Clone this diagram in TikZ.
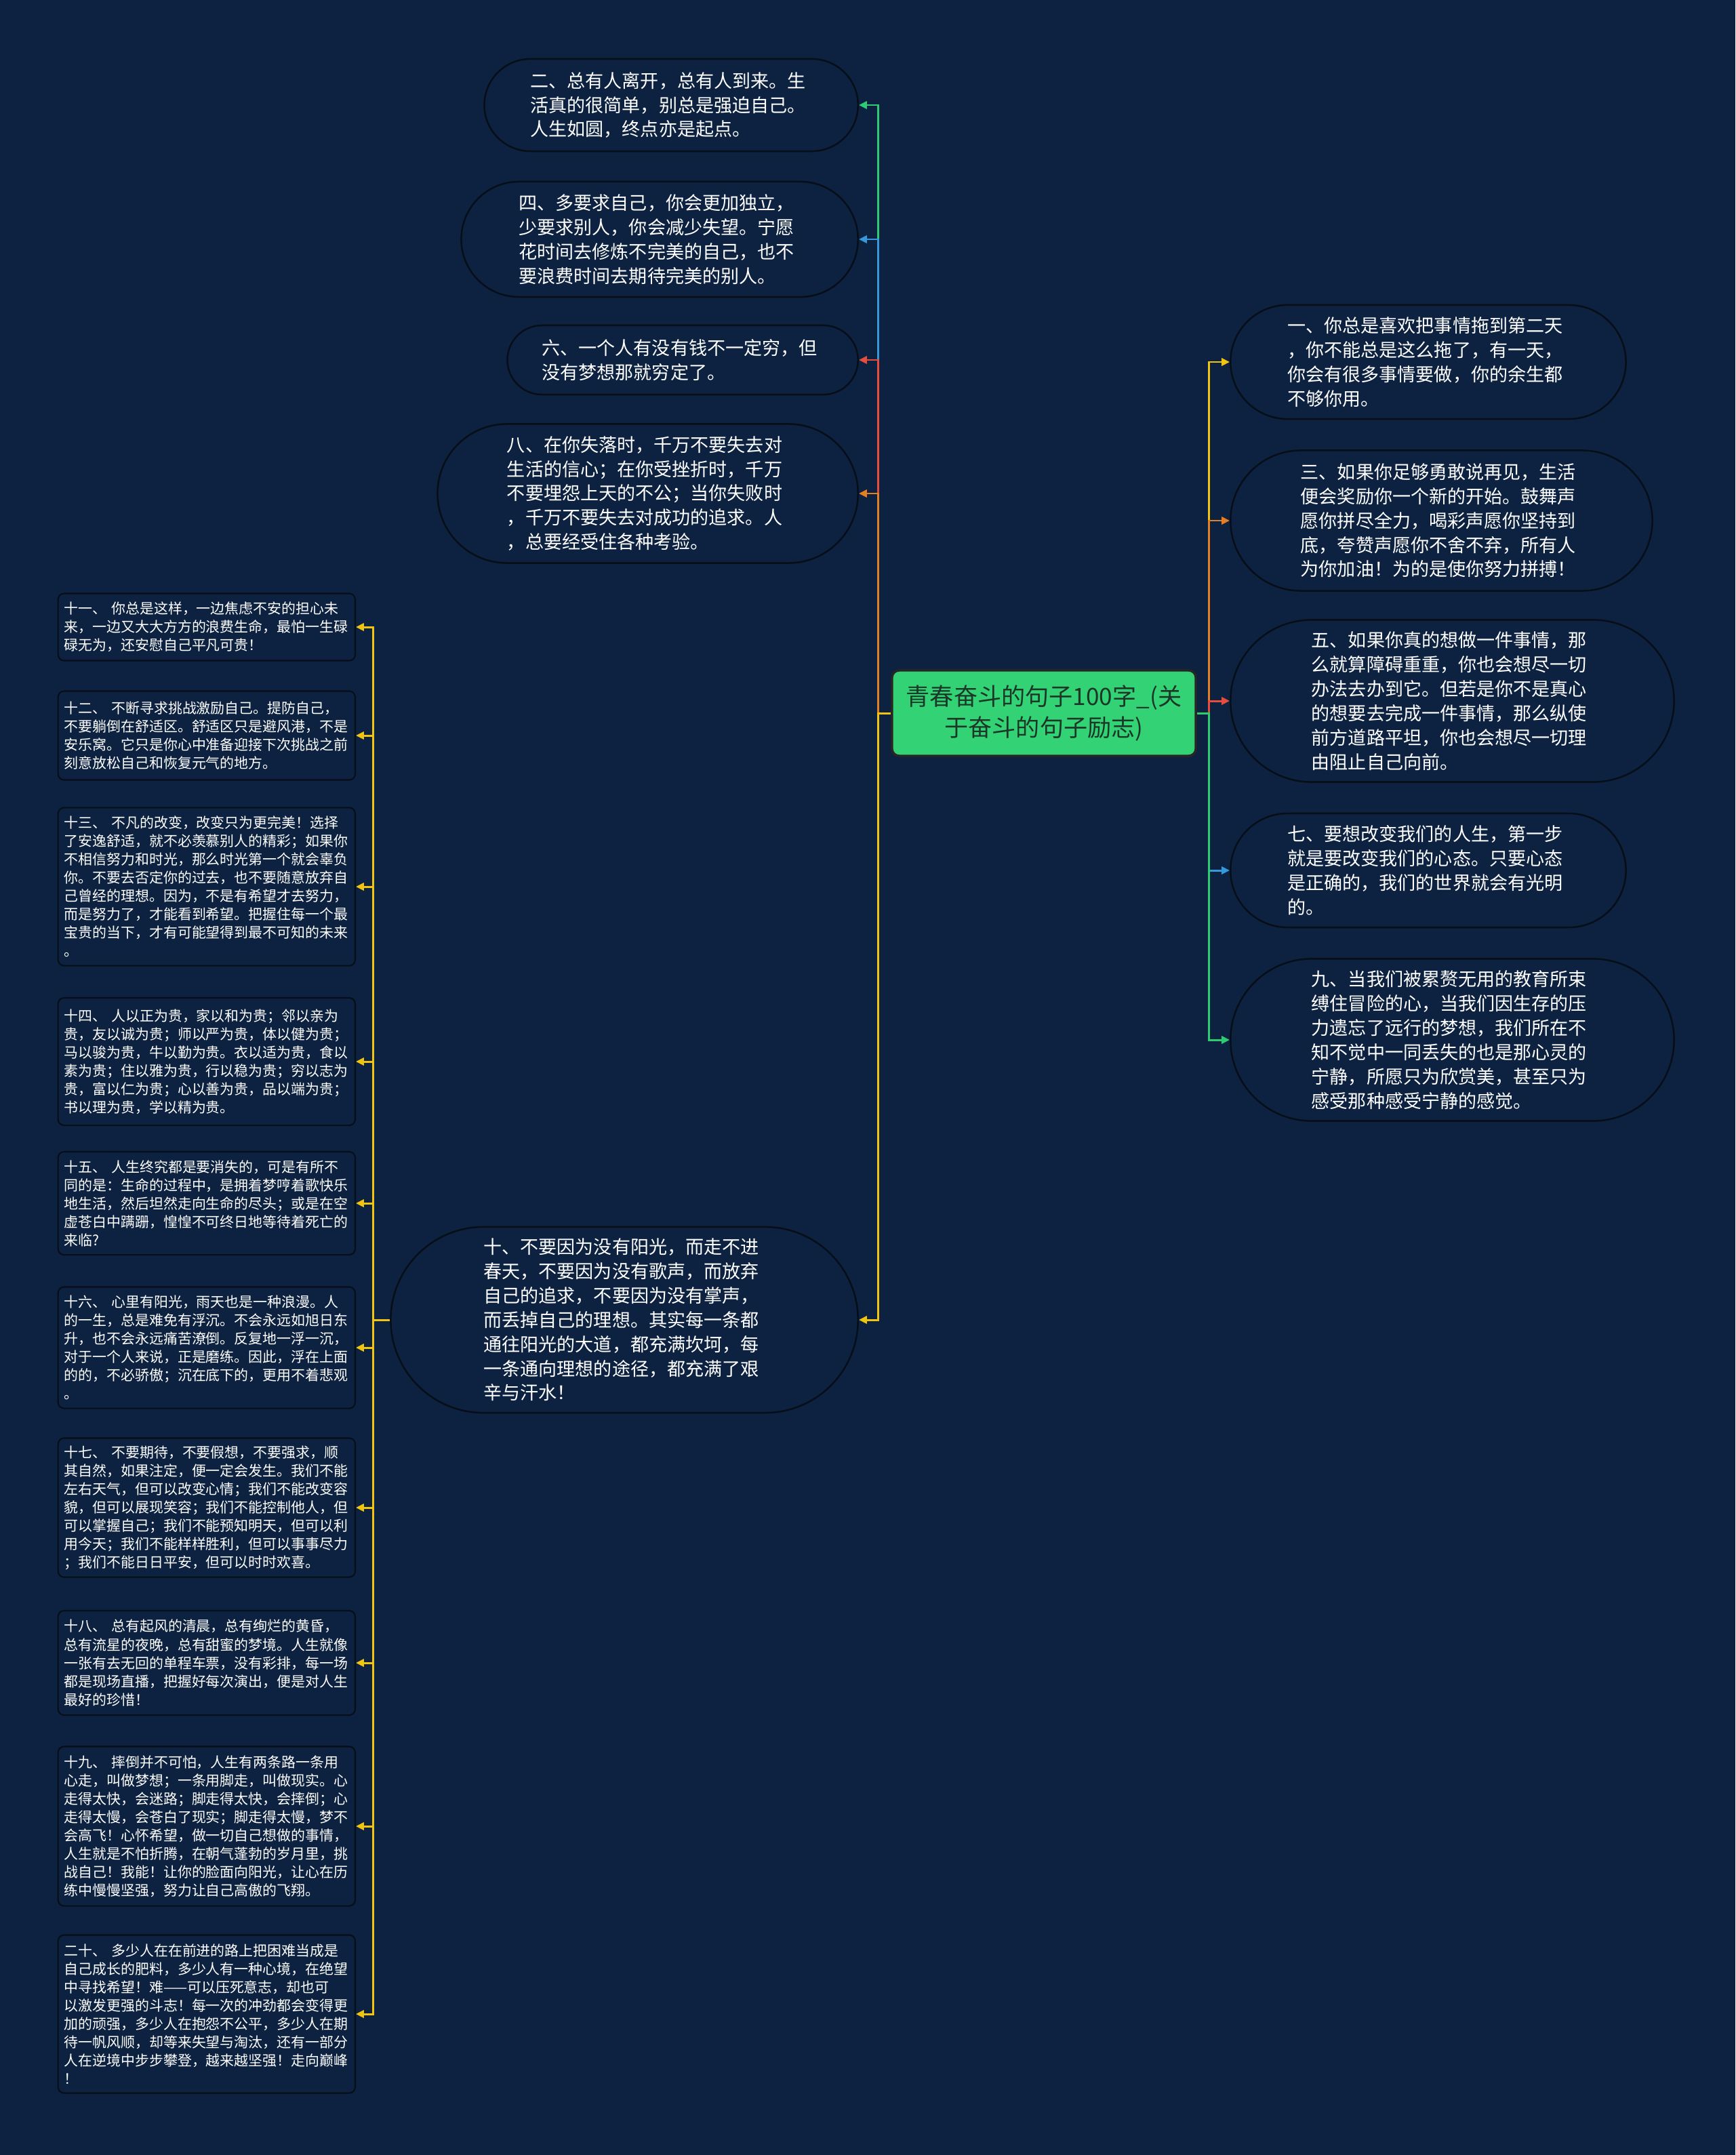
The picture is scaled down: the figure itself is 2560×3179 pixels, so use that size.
\documentclass[tikz,border=0pt]{standalone}
\usepackage{fontspec}
\setmainfont{Noto Sans CJK SC}
\usepackage{tikz}
\usetikzlibrary{arrows.meta,positioning}
\definecolor{bgnavy}{RGB}{13,34,64}
\definecolor{edgedark}{RGB}{6,14,24}
\definecolor{rootgreen}{RGB}{51,211,117}
\definecolor{roottext}{RGB}{28,54,40}
\definecolor{lgreen}{RGB}{46,204,113}
\definecolor{lblue}{RGB}{52,152,219}
\definecolor{lred}{RGB}{231,76,60}
\definecolor{lorange}{RGB}{230,126,34}
\definecolor{lyellow}{RGB}{241,196,15}
\newcommand{\bigfont}{\fontsize{7.7pt}{10.2pt}\selectfont}
\newcommand{\smallfont}{\fontsize{5.95pt}{7.68pt}\selectfont}

\begin{document}
\begin{tikzpicture}[x=0.01cm,y=-0.01cm,
  >={Triangle[length=3.4pt,width=3.2pt]},
  link/.style={line width=0.85pt,->},
  pill/.style={rectangle,rounded corners=#1/2,minimum height=#1,minimum width=4.15cm+#1,
    draw=edgedark,line width=0.7pt,fill=bgnavy,text=white,
    font=\bigfont,align=left,text width=4.15cm,inner xsep=0pt,inner ysep=0pt},
  card/.style={rectangle,rounded corners=2.5pt,draw=edgedark,line width=0.6pt,fill=bgnavy,
    text=white,font=\smallfont,align=left,text width=4.2cm,inner xsep=0.09cm,inner ysep=0pt,anchor=east},
  rootbox/.style={rectangle,rounded corners=3pt,draw=black!85,line width=1pt,fill=rootgreen,
    text=roottext,font=\fontsize{10pt}{13pt}\selectfont,align=center,
    minimum width=4.48cm,minimum height=1.26cm}]
  \useasboundingbox (0,0) rectangle (2560,3179);
  \fill[bgnavy] (0,0) rectangle (2560,3179);

  % root
  \node[rootbox] (root) at (1540,1052) {青春奋斗的句子100字\_(关\\于奋斗的句子励志)};

  % left branch
  \node[pill=1.36cm,anchor=east] (n2) at (1267,155)
    {二、总有人离开，总有人到来。生\\活真的很简单，别总是强迫自己。\\人生如圆，终点亦是起点。};
  \node[pill=1.70cm,anchor=east] (n4) at (1267,353)
    {四、多要求自己，你会更加独立，\\少要求别人，你会减少失望。宁愿\\花时间去修炼不完美的自己，也不\\要浪费时间去期待完美的别人。};
  \node[pill=1.02cm,anchor=east] (n6) at (1267,531)
    {六、一个人有没有钱不一定穷，但\\没有梦想那就穷定了。};
  \node[pill=2.05cm,anchor=east] (n8) at (1267,728)
    {八、在你失落时，千万不要失去对\\生活的信心；在你受挫折时，千万\\不要埋怨上天的不公；当你失败时\\，千万不要失去对成功的追求。人\\，总要经受住各种考验。};
  \node[pill=2.74cm,anchor=east] (n10) at (1267,1947)
    {十、不要因为没有阳光，而走不进\\春天，不要因为没有歌声，而放弃\\自己的追求，不要因为没有掌声，\\而丢掉自己的理想。其实每一条都\\通往阳光的大道，都充满坎坷，每\\一条通向理想的途径，都充满了艰\\辛与汗水！};

  % right branch
  \node[pill=1.68cm,anchor=west] (n1) at (1814,534)
    {一、你总是喜欢把事情拖到第二天\\，你不能总是这么拖了，有一天，\\你会有很多事情要做，你的余生都\\不够你用。};
  \node[pill=2.07cm,anchor=west] (n3) at (1814,768)
    {三、如果你足够勇敢说再见，生活\\便会奖励你一个新的开始。鼓舞声\\愿你拼尽全力，喝彩声愿你坚持到\\底，夸赞声愿你不舍不弃，所有人\\为你加油！为的是使你努力拼搏！};
  \node[pill=2.39cm,anchor=west] (n5) at (1814,1034)
    {五、如果你真的想做一件事情，那\\么就算障碍重重，你也会想尽一切\\办法去办到它。但若是你不是真心\\的想要去完成一件事情，那么纵使\\前方道路平坦，你也会想尽一切理\\由阻止自己向前。};
  \node[pill=1.68cm,anchor=west] (n7) at (1814,1284)
    {七、要想改变我们的人生，第一步\\就是要改变我们的心态。只要心态\\是正确的，我们的世界就会有光明\\的。};
  \node[pill=2.39cm,anchor=west] (n9) at (1814,1534)
    {九、当我们被累赘无用的教育所束\\缚住冒险的心，当我们因生存的压\\力遗忘了远行的梦想，我们所在不\\知不觉中一同丢失的也是那心灵的\\宁静，所愿只为欣赏美，甚至只为\\感受那种感受宁静的感觉。};

  % list under n10
  \node[card,minimum height=0.99cm] (n11) at (525,925)
    {十一、 你总是这样，一边焦虑不安的担心未\\来，一边又大大方方的浪费生命，最怕一生碌\\碌无为，还安慰自己平凡可贵！};
  \node[card,minimum height=1.31cm] (n12) at (525,1085)
    {十二、 不断寻求挑战激励自己。提防自己，\\不要躺倒在舒适区。舒适区只是避风港，不是\\安乐窝。它只是你心中准备迎接下次挑战之前\\刻意放松自己和恢复元气的地方。};
  \node[card,minimum height=2.33cm] (n13) at (525,1308)
    {十三、 不凡的改变，改变只为更完美！选择\\了安逸舒适，就不必羡慕别人的精彩；如果你\\不相信努力和时光，那么时光第一个就会辜负\\你。不要去否定你的过去，也不要随意放弃自\\己曾经的理想。因为，不是有希望才去努力，\\而是努力了，才能看到希望。把握住每一个最\\宝贵的当下，才有可能望得到最不可知的未来\\。};
  \node[card,minimum height=1.88cm] (n14) at (525,1566)
    {十四、 人以正为贵，家以和为贵；邻以亲为\\贵，友以诚为贵；师以严为贵，体以健为贵；\\马以骏为贵，牛以勤为贵。衣以适为贵，食以\\素为贵；住以雅为贵，行以稳为贵；穷以志为\\贵，富以仁为贵；心以善为贵，品以端为贵；\\书以理为贵，学以精为贵。};
  \node[card,minimum height=1.52cm] (n15) at (525,1775)
    {十五、 人生终究都是要消失的，可是有所不\\同的是：生命的过程中，是拥着梦哼着歌快乐\\地生活，然后坦然走向生命的尽头；或是在空\\虚苍白中蹒跚，惶惶不可终日地等待着死亡的\\来临?};
  \node[card,minimum height=1.79cm] (n16) at (525,1988)
    {十六、 心里有阳光，雨天也是一种浪漫。人\\的一生，总是难免有浮沉。不会永远如旭日东\\升，也不会永远痛苦潦倒。反复地一浮一沉，\\对于一个人来说，正是磨练。因此，浮在上面\\的的，不必骄傲；沉在底下的，更用不着悲观\\。};
  \node[card,minimum height=2.05cm] (n17) at (525,2224)
    {十七、 不要期待，不要假想，不要强求，顺\\其自然，如果注定，便一定会发生。我们不能\\左右天气，但可以改变心情；我们不能改变容\\貌，但可以展现笑容；我们不能控制他人，但\\可以掌握自己；我们不能预知明天，但可以利\\用今天；我们不能样样胜利，但可以事事尽力\\；我们不能日日平安，但可以时时欢喜。};
  \node[card,minimum height=1.54cm] (n18) at (525,2453)
    {十八、 总有起风的清晨，总有绚烂的黄昏，\\总有流星的夜晚，总有甜蜜的梦境。人生就像\\一张有去无回的单程车票，没有彩排，每一场\\都是现场直播，把握好每次演出，便是对人生\\最好的珍惜！};
  \node[card,minimum height=2.35cm] (n19) at (525,2694)
    {十九、 摔倒并不可怕，人生有两条路一条用\\心走，叫做梦想；一条用脚走，叫做现实。心\\走得太快，会迷路；脚走得太快，会摔倒；心\\走得太慢，会苍白了现实；脚走得太慢，梦不\\会高飞！心怀希望，做一切自己想做的事情，\\人生就是不怕折腾，在朝气蓬勃的岁月里，挑\\战自己！我能！让你的脸面向阳光，让心在历\\练中慢慢坚强，努力让自己高傲的飞翔。};
  \node[card,minimum height=2.33cm] (n20) at (525,2971)
    {二十、 多少人在在前进的路上把困难当成是\\自己成长的肥料，多少人有一种心境，在绝望\\中寻找希望！难——可以压死意志，却也可\\以激发更强的斗志！每一次的冲劲都会变得更\\加的顽强，多少人在抱怨不公平，多少人在期\\待一帆风顺，却等来失望与淘汰，还有一部分\\人在逆境中步步攀登，越来越坚强！走向巅峰\\！};

  % connectors
  \coordinate (lj) at ([xshift=-0.19cm]root.west);
  \coordinate (rj) at ([xshift=0.18cm]root.east);
  \coordinate (tj) at ([xshift=-0.25cm]n10.west);
  \draw[link,lgreen] (root.west) -- (lj) |- (n2.east);
  \draw[link,lblue] (root.west) -- (lj) |- (n4.east);
  \draw[link,lred] (root.west) -- (lj) |- (n6.east);
  \draw[link,lorange] (root.west) -- (lj) |- (n8.east);
  \draw[link,lyellow] (root.west) -- (lj) |- (n10.east);
  \draw[link,lyellow] (root.east) -- (rj) |- (n1.west);
  \draw[link,lorange] (root.east) -- (rj) |- (n3.west);
  \draw[link,lred] (root.east) -- (rj) |- (n5.west);
  \draw[link,lblue] (root.east) -- (rj) |- (n7.west);
  \draw[link,lgreen] (root.east) -- (rj) |- (n9.west);
  \foreach \n in {n11,n12,n13,n14,n15,n16,n17,n18,n19,n20}
    \draw[link,lyellow] (n10.west) -- (tj) |- (\n.east);
\end{tikzpicture}
\end{document}
